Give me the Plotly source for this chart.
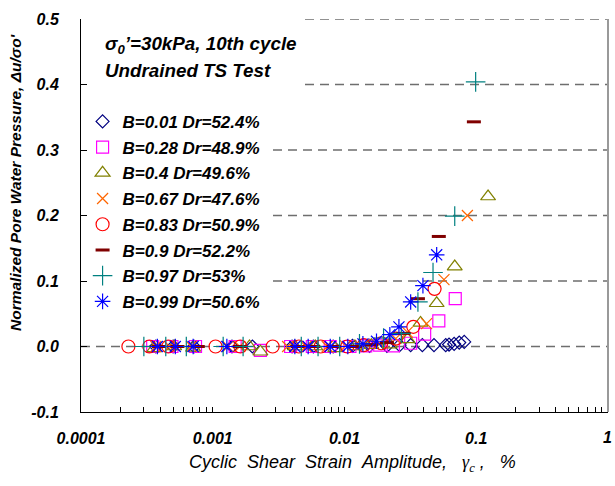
import plotly.graph_objects as go

# ---------------- data ----------------
names = ["B=0.01 Dr=52.4%", "B=0.28 Dr=48.9%", "B=0.4 Dr=49.6%", "B=0.67 Dr=47.6%",
         "B=0.83 Dr=50.9%", "B=0.9 Dr=52.2%", "B=0.97 Dr=53%", "B=0.99 Dr=50.6%"]

x_b001 = [0.00037, 0.00050, 0.00072, 0.0014, 0.0020, 0.0040, 0.0058, 0.0082, 0.0115, 0.0155,
          0.021, 0.0262, 0.0318, 0.039, 0.0478, 0.0587, 0.0622, 0.068, 0.0743, 0.0811]
y_b001 = [0, 0, 0, 0, 0, 0, 0, 0, 0.001, 0.001, 0.001, 0.002, 0.002, 0.002, 0.002, 0.002,
          0.003, 0.004, 0.006, 0.007]

x_b028 = [0.00035, 0.00049, 0.00074, 0.00148, 0.0023, 0.0039, 0.0057, 0.0078, 0.0110, 0.0145,
          0.0185, 0.0235, 0.0318, 0.0406, 0.052, 0.0693]
y_b028 = [0, 0, 0, 0, -0.006, 0, 0, 0, 0, 0.001, 0.002, 0.001, 0.005, 0.019, 0.039, 0.073]

x_b04 = [0.00036, 0.00051, 0.00071, 0.0019, 0.0023, 0.0042, 0.0060, 0.0085, 0.0120, 0.0160,
         0.0220, 0.0301, 0.0378, 0.0501, 0.0687, 0.123]
y_b04 = [-0.003, 0, -0.002, 0, -0.008, 0, 0, -0.003, 0, 0.002, 0.003, 0.011, 0.036, 0.066,
         0.122, 0.229]

x_b067 = [0.00037, 0.00047, 0.00069, 0.0013, 0.0016, 0.0037, 0.0051, 0.0074, 0.0102, 0.0140,
          0.0185, 0.0245, 0.030, 0.042, 0.0569, 0.0857]
y_b067 = [0, 0, 0, 0, 0, 0, 0, 0, 0.001, 0.003, 0.005, 0.012, 0.022, 0.035, 0.102, 0.200]

x_b083 = [0.000229, 0.00033, 0.00046, 0.00105, 0.00162, 0.00285, 0.0045, 0.0066, 0.0105, 0.0140,
          0.0190, 0.0245, 0.0333, 0.0483]
y_b083 = [0, 0, 0, 0, 0, 0, 0, 0, 0, 0.002, 0.005, 0.012, 0.030, 0.088]

x_b09 = [0.00039, 0.00054, 0.00077, 0.0016, 0.0044, 0.0058, 0.0083, 0.0120, 0.0160, 0.0210,
         0.0280, 0.0361, 0.052, 0.096]
y_b09 = [0, 0, 0, 0, 0, 0, 0, 0, 0.003, 0.006, 0.020, 0.073, 0.168, 0.343]

x_b097 = [0.00030, 0.00044, 0.00063, 0.0012, 0.0017, 0.0047, 0.0063, 0.0092, 0.0130, 0.0198,
          0.0270, 0.0361, 0.047, 0.0687, 0.099]
y_b097 = [0, 0, 0, 0, 0, 0, 0, 0, 0.004, 0.013, 0.020, 0.068, 0.113, 0.199, 0.404]

x_b099 = [0.00038, 0.00052, 0.00071, 0.00128, 0.0042, 0.0053, 0.0078, 0.0106, 0.0138, 0.0175,
          0.0221, 0.0259, 0.0318, 0.0394, 0.0501]
y_b099 = [0, 0, 0, 0, 0, 0, 0, 0, 0.004, 0.008, 0.018, 0.030, 0.068, 0.093, 0.140]

x_major = [0.0001, 0.001, 0.01, 0.1, 1]
x_major_text = ["0.0001", "0.001", "0.01", "0.1", "1"]
x_minor_digits = [2, 3, 4, 5, 6, 7, 8, 9]
y_tickvals = [-0.1, 0.0, 0.1, 0.2, 0.3, 0.4, 0.5]
y_ticktext = ["-0.1", "0.0", "0.1", "0.2", "0.3", "0.4", "0.5"]
grid_values = [0.0, 0.1, 0.2, 0.3, 0.4, 0.5]

# tick list: major decades with labels (last one drawn as annotation), minor 2..9 unlabeled
x_tickvals, x_ticktext = [], []
for i, d in enumerate(x_major):
    x_tickvals.append(d)
    x_ticktext.append(x_major_text[i] if d < 1 else "")
    if d < 1:
        for m in x_minor_digits:
            x_tickvals.append(round(d * m, 6))
            x_ticktext.append("")

# ---------------- styles ----------------
xs = [x_b001, x_b028, x_b04, x_b067, x_b083, x_b09, x_b097, x_b099]
ys = [y_b001, y_b028, y_b04, y_b067, y_b083, y_b09, y_b097, y_b099]
symbols = ["diamond-open", "square-open", "triangle-up-open", "x-thin-open",
           "circle-open", "line-ew", "cross-thin-open", "asterisk-open"]
colors = ["#000080", "#FF00FF", "#808000", "#FF6600", "#FF0000", "#800000", "#008080", "#0000FF"]
sizes = [10, 12, 13, 11, 13, 10, 14, 13]
widths = [1.2, 1.2, 1.2, 1.2, 1.2, 3, 1.2, 1.2]

FONT = "Liberation Sans, Arial, sans-serif"
TICKFONT = dict(family=FONT, size=16, weight="bold", style="italic", color="black")

fig = go.Figure()
for i in range(8):
    fig.add_trace(go.Scatter(
        x=xs[i], y=ys[i], mode="markers", name=names[i], legendgroup=str(i),
        marker=dict(symbol=symbols[i], size=sizes[i], color=colors[i],
                    line=dict(color=colors[i], width=widths[i])),
    ))

W, H = 615, 486
L, R, T, B = 81, 7, 19, 74
PW = W - L - R
PH = H - T - B

fig.update_layout(
    width=W, height=H,
    margin=dict(l=L, r=R, t=T, b=B, pad=0),
    paper_bgcolor="white", plot_bgcolor="white",
    font=dict(family=FONT, color="black"),
    showlegend=True,
    legend=dict(x=0.003, y=0.784, xanchor="left", yanchor="top",
                bgcolor="rgba(0,0,0,0)", itemwidth=30, tracegroupgap=0.6,
                font=dict(family=FONT, size=17, weight="bold", style="italic", color="black")),
    xaxis=dict(type="log", range=[-4, 0.0003], tickmode="array", tickvals=x_tickvals,
               ticktext=x_ticktext, ticks="inside", ticklen=5, tickcolor="black", tickwidth=1.2,
               showline=True, linecolor="black", linewidth=1, showgrid=False, zeroline=False,
               ticklabelstandoff=12, ticklabeloverflow="allow", tickfont=TICKFONT),
    yaxis=dict(range=[-0.1, 0.5], tickmode="array", tickvals=y_tickvals, ticktext=y_ticktext,
               ticks="inside", ticklen=6, tickcolor="black", tickwidth=1.2,
               showline=True, linecolor="black", linewidth=1,
               showgrid=False, zeroline=False, ticklabelstandoff=18, tickfont=TICKFONT),
)

# dashed horizontal gridlines (partly hidden behind the text / legend boxes)
for v in grid_values:
    if v >= 0.35:
        x0 = (305 - L) / PW
    elif v >= 0.05:
        x0 = (273 - L) / PW
    else:
        x0 = 0.0
    fig.add_shape(type="line", xref="paper", yref="y", x0=x0, x1=1, y0=v, y1=v,
                  line=dict(color="#6e6e6e", width=1.5, dash="9px,6px"), layer="below")

# right border
fig.add_shape(type="line", xref="paper", yref="paper", x0=1, x1=1, y0=0, y1=1,
              line=dict(color="#999999", width=2))

# last decade label at the right end of the x axis
fig.add_annotation(xref="x", yref="paper", x=0, y=-25 / PH, xanchor="center", yanchor="middle",
                   showarrow=False, text=x_major_text[-1], font=TICKFONT)

NB = "\u00a0"
fig.add_annotation(xref="paper", yref="paper", x=(103 - L) / PW, y=(412 - 45) / PH,
                   xanchor="left", yanchor="middle", showarrow=False,
                   text="σ<sub>0</sub>’=30kPa, 10th cycle",
                   font=dict(family=FONT, size=18.8, weight="bold", style="italic", color="black"))
fig.add_annotation(xref="paper", yref="paper", x=(103 - L) / PW, y=(412 - 70) / PH,
                   xanchor="left", yanchor="middle", showarrow=False,
                   text="Undrained TS Test",
                   font=dict(family=FONT, size=18.8, weight="bold", style="italic", color="black"))
# axis titles
fig.add_annotation(xref="paper", yref="paper", x=(15 - L) / PW, y=(412 - 182) / PH,
                   xanchor="center", yanchor="middle", showarrow=False, textangle=-90,
                   text="Normalized Pore Water Pressure, Δu/σo'",
                   font=dict(family=FONT, size=15.5, weight="bold", style="italic", color="black"))
fig.add_annotation(xref="paper", yref="paper", x=(352 - L) / PW, y=(412 - 463) / PH,
                   xanchor="center", yanchor="middle", showarrow=False,
                   text=("Cyclic" + NB * 2 + "Shear" + NB * 2 + "Strain" + NB * 2 + "Amplitude," + NB * 3 +
                         "<span style='font-family:Liberation Serif,Times New Roman,serif;font-style:italic'>γ<sub>c</sub></span>"
                         + NB + "," + NB * 3 + "%"),
                   font=dict(family=FONT, size=18, style="italic", color="black"))

# remove the browser's default page margin so the figure sits at the window's top-left corner
fig.write_html("out.html", config={"displayModeBar": False},
               post_script="document.body.style.margin='0';document.body.style.padding='0';")
